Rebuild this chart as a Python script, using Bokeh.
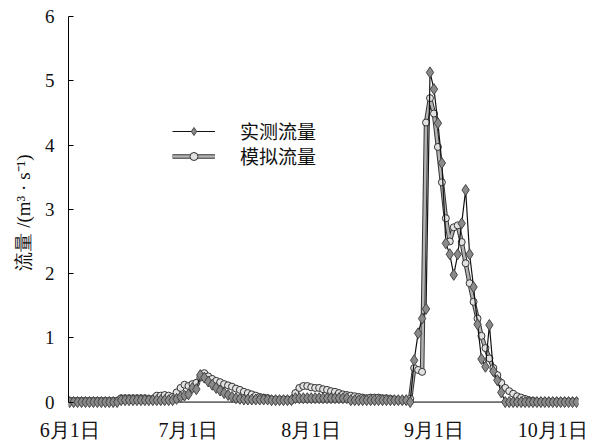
import pandas as pd
from bokeh.plotting import figure
from bokeh.models import (Range1d, FixedTicker, CustomJSTickFormatter, Legend,
                          LegendItem, Span, ColumnDataSource)
from bokeh.embed import file_html
from bokeh.resources import INLINE

# ---- data (daily, starting 1 June) ----
start_date = "2015-06-01"
observed = [
    0, 0, 0, 0, 0, 0, 0, 0, 0, 0,
    0, 0, 0, 0.03, 0.03, 0.03, 0.03, 0.03, 0.03, 0.03,
    0.03, 0.03, 0.03, 0.03, 0.03, 0.03, 0.03, 0.05, 0.08, 0.10,
    0.12, 0.22, 0.20, 0.42, 0.38, 0.32, 0.27, 0.22, 0.18, 0.14,
    0.11, 0.08, 0.06, 0.05, 0.04, 0.04, 0.04, 0.04, 0.04, 0.04,
    0.04, 0.03, 0.03, 0.03, 0.03, 0.03, 0.03, 0.06, 0.06, 0.06,
    0.06, 0.06, 0.06, 0.06, 0.06, 0.06, 0.06, 0.06, 0.06, 0.06,
    0.06, 0.03, 0.03, 0.03, 0.03, 0.03, 0.03, 0.03, 0.03, 0.03,
    0.03, 0.03, 0.03, 0.03, 0.03, 0.03, 0, 0.65, 1.07, 1.30,
    1.45, 5.13, 4.87, 4.34, 3.72, 2.47, 2.30, 1.98, 2.30, 2.78,
    3.30, 2.30, 1.79, 1.21, 0.67, 0.55, 1.20, 0.48, 0.34, 0.15,
    0, 0, 0, 0, 0, 0, 0, 0, 0, 0,
    0, 0, 0, 0, 0, 0, 0, 0, 0,
]
simulated = [
    0.02, 0.02, 0.02, 0.02, 0.02, 0.02, 0.02, 0.02, 0.02, 0.02,
    0.02, 0.02, 0.02, 0.06, 0.06, 0.06, 0.06, 0.06, 0.06, 0.06,
    0.05, 0.05, 0.10, 0.10, 0.11, 0.10, 0.08, 0.15, 0.22, 0.27,
    0.25, 0.28, 0.30, 0.38, 0.45, 0.40, 0.36, 0.33, 0.31, 0.28,
    0.26, 0.24, 0.21, 0.19, 0.16, 0.14, 0.12, 0.10, 0.08, 0.07,
    0.06, 0.04, 0.04, 0.04, 0.04, 0.04, 0.03, 0.14, 0.22, 0.25,
    0.25, 0.23, 0.22, 0.22, 0.20, 0.19, 0.17, 0.16, 0.14, 0.12,
    0.11, 0.10, 0.09, 0.08, 0.07, 0.06, 0.07, 0.07, 0.07, 0.06,
    0.06, 0.05, 0.04, 0.03, 0.03, 0.03, 0.05, 0.53, 0.50, 0.47,
    4.35, 4.73, 4.49, 3.97, 3.42, 2.86, 2.50, 2.72, 2.75, 2.49,
    2.16, 1.85, 1.56, 1.30, 1.03, 0.84, 0.68, 0.53, 0.42, 0.30,
    0.22, 0.17, 0.13, 0.09, 0.07, 0.05, 0.03, 0.02, 0.01, 0.01,
    0.01, 0.01, 0.01, 0.01, 0.01, 0.01, 0.01, 0.01, 0.01,
]
tick_dates = ["2015-06-01", "2015-07-01", "2015-08-01", "2015-09-01", "2015-10-01"]
y_ticks = [0, 1, 2, 3, 4, 5, 6]
labels = ["实测流量", "模拟流量"]
y_title = "流量 /(m³ · s⁻¹)"

dates = pd.date_range(start_date, periods=len(observed), freq="D")
src = ColumnDataSource(dict(date=dates, obs=observed, sim=simulated))

x_start = dates[0] - pd.Timedelta(hours=7)
x_end = dates[0] + pd.Timedelta(days=128.5)

p = figure(width=589, height=443, x_axis_type="datetime",
           x_range=Range1d(x_start, x_end), y_range=Range1d(-0.1, 6),
           output_backend="svg", toolbar_location=None,
           min_border_left=68, min_border_right=11,
           min_border_top=16, min_border_bottom=35)
p.outline_line_color = None
p.grid.grid_line_color = None
p.background_fill_color = "white"

serif = "Liberation Serif"

# x axis
xa = p.xaxis[0]
xa.ticker = FixedTicker(ticks=[pd.Timestamp(d).value // 10**6 for d in tick_dates])
xa.formatter = CustomJSTickFormatter(code="""
const d = new Date(tick);
return (d.getUTCMonth() + 1) + '月' + d.getUTCDate() + '日';
""")
xa.axis_line_color = None
xa.major_tick_in = 0
xa.major_tick_out = 0
xa.minor_tick_in = 0
xa.minor_tick_out = 0
xa.major_label_standoff = 10
xa.major_label_text_font = serif
xa.major_label_text_font_size = "20px"
xa.major_label_text_color = "#111111"

# y axis
ya = p.yaxis[0]
ya.ticker = FixedTicker(ticks=y_ticks)
ya.bounds = (0, 6)
ya.axis_line_color = "black"
ya.major_tick_in = 5
ya.major_tick_out = 0
ya.minor_tick_in = 0
ya.minor_tick_out = 0
ya.major_label_standoff = 14
ya.major_label_text_font = serif
ya.major_label_text_font_size = "19px"
ya.major_label_text_color = "#111111"
ya.axis_label = y_title
ya.axis_label_text_font = serif
ya.axis_label_text_font_size = "19px"
ya.axis_label_text_font_style = "normal"
ya.axis_label_text_color = "#111111"
ya.axis_label_standoff = 8

# axis line at y = 0
p.add_layout(Span(location=0, dimension="width", line_color="black",
                  line_width=1, level="underlay"))

# simulated series
r_s1 = p.line("date", "sim", source=src, line_color="#333333", line_width=4.5)
r_s2 = p.line("date", "sim", source=src, line_color="#b4b4b4", line_width=2.5)
r_s3 = p.scatter("date", "sim", source=src, marker="circle", size=7,
                 fill_color="#e2e2e2", line_color="#333333", line_width=1)
# observed series
r_o1 = p.line("date", "obs", source=src, line_color="#111111", line_width=1.2)
r_o2 = p.scatter("date", "obs", source=src, marker="diamond", size=11,
                 fill_color="#8a8a8a", line_color="#444444", line_width=1)

common = dict(orientation="vertical", glyph_width=43, glyph_height=20,
              label_height=20, label_standoff=25, spacing=0, padding=0,
              margin=0, border_line_color=None, background_fill_alpha=0,
              label_text_font="Noto Sans CJK SC", label_text_font_size="19px",
              label_text_color="#111111")
leg1 = Legend(items=[LegendItem(label=labels[0], renderers=[r_o1, r_o2])],
              location=(104, 264), **common)
leg2 = Legend(items=[LegendItem(label=labels[1], renderers=[r_s1, r_s2, r_s3])],
              location=(104, 239), **common)
p.add_layout(leg1)
p.add_layout(leg2)

open("out.html", "w").write(file_html(p, INLINE))
